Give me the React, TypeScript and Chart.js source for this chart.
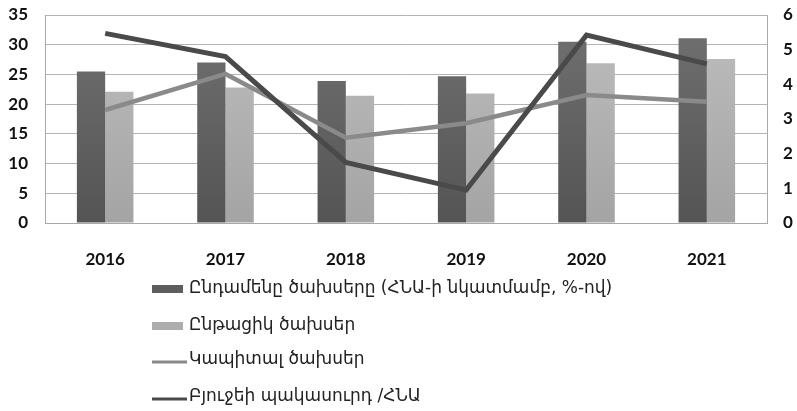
import React, { useEffect, useRef } from "react";
import { Chart, registerables } from "chart.js";

Chart.register(...registerables);

const categories = ["2016", "2017", "2018", "2019", "2020", "2021"];
const totalSpending = [25.5, 27.0, 23.9, 24.7, 30.5, 31.1];
const currentSpending = [22.1, 22.8, 21.4, 21.8, 26.9, 27.6];
const capitalSpending = [3.26, 4.3, 2.46, 2.88, 3.69, 3.5];
const budgetDeficit = [5.47, 4.8, 1.75, 0.95, 5.42, 4.59];
const leftTicks = [0, 5, 10, 15, 20, 25, 30, 35];
const rightTicks = [0, 1, 2, 3, 4, 5, 6];

const seriesLabels = [
  "Ընդամենը ծախսերը (ՀՆԱ-ի նկատմամբ, %-ով)",
  "Ընթացիկ ծախսեր",
  "Կապիտալ ծախսեր",
  "Բյուջեի պակասուրդ /ՀՆԱ",
];

const gradientFill = (top: string, bottom: string) => (ctx: any) => {
  const chart = ctx.chart;
  const area = chart.chartArea;
  if (!area) return bottom;
  const g = chart.ctx.createLinearGradient(0, area.top, 0, area.bottom);
  g.addColorStop(0, top);
  g.addColorStop(1, bottom);
  return g;
};

const legendPlugin = {
  id: "columnLegend",
  afterDraw(chart: any, _args: any, opts: any) {
    const ctx = chart.ctx;
    const area = chart.chartArea;
    const x0 = opts.x;
    ctx.save();
    ctx.font = opts.font;
    ctx.fillStyle = opts.color;
    ctx.textBaseline = "middle";
    chart.data.datasets.forEach((ds: any, i: number) => {
      const y = area.bottom + opts.rows[i];
      if (ds.type === "line") {
        ctx.strokeStyle = ds.borderColor;
        ctx.lineWidth = 3;
        ctx.beginPath();
        ctx.moveTo(x0, y + 2);
        ctx.lineTo(x0 + opts.boxWidth + 4, y + 2);
        ctx.stroke();
      } else {
        ctx.fillStyle = ds.legendColor;
        ctx.fillRect(x0, y - 4, opts.boxWidth, 8);
      }
      ctx.fillStyle = opts.color;
      ctx.textAlign = "left";
      ctx.fillText(ds.label, x0 + opts.boxWidth + 6, y);
    });
    ctx.restore();
  },
};

export default function App() {
  const ref = useRef<HTMLCanvasElement | null>(null);

  useEffect(() => {
    document.body.style.margin = "0";
    const canvas = ref.current;
    if (!canvas) return;
    const tickFont = { family: "Lato", size: 17, weight: "bold" as const };
    const chart = new Chart(canvas, {
      type: "bar",
      data: {
        labels: categories,
        datasets: [
          {
            type: "bar",
            label: seriesLabels[0],
            data: totalSpending,
            backgroundColor: gradientFill("#717171", "#545454"),
            legendColor: "#5e5e5e",
            yAxisID: "y",
            order: 2,
            barPercentage: 1,
            categoryPercentage: 0.47,
          } as any,
          {
            type: "bar",
            label: seriesLabels[1],
            data: currentSpending,
            backgroundColor: gradientFill("#bebebe", "#a4a4a4"),
            legendColor: "#acacac",
            yAxisID: "y",
            order: 2,
            barPercentage: 1,
            categoryPercentage: 0.47,
          } as any,
          {
            type: "line",
            label: seriesLabels[2],
            data: capitalSpending,
            borderColor: "#8a8a8a",
            borderWidth: 4.5,
            pointRadius: 0,
            tension: 0,
            yAxisID: "y1",
            order: 1,
          } as any,
          {
            type: "line",
            label: seriesLabels[3],
            data: budgetDeficit,
            borderColor: "#4a4a4a",
            borderWidth: 5,
            pointRadius: 0,
            tension: 0,
            yAxisID: "y1",
            order: 0,
          } as any,
        ],
      },
      options: {
        animation: false,
        responsive: false,
        layout: { padding: { top: 15, left: 0, right: 0, bottom: 0 } },
        plugins: {
          legend: { display: false },
          tooltip: { enabled: false },
          columnLegend: {
            x: 152,
            boxWidth: 31,
            rows: [66, 103, 137, 174],
            font: "17px 'DejaVu Sans'",
            color: "#222222",
          },
        } as any,
        scales: {
          x: {
            grid: { display: false },
            border: { display: true, color: "#a8a8a8", width: 1 },
            ticks: { font: tickFont, color: "#111111", padding: 18 },
            afterFit: (s: any) => {
              s.height = 188;
            },
          },
          y: {
            position: "left",
            min: 0,
            max: 35,
            afterBuildTicks: (s: any) => {
              s.ticks = leftTicks.map((v) => ({ value: v }));
            },
            grid: { color: "#b4b4b4", lineWidth: 1, drawTicks: false },
            border: { display: true, color: "#a8a8a8", width: 1 },
            ticks: { font: tickFont, color: "#111111", padding: 17 },
            afterFit: (s: any) => {
              s.width = 45;
              s.paddingTop = 0;
              s.paddingBottom = 0;
            },
          },
          y1: {
            position: "right",
            min: 0,
            max: 6,
            afterBuildTicks: (s: any) => {
              s.ticks = rightTicks.map((v) => ({ value: v }));
            },
            grid: { display: false, drawTicks: false },
            border: { display: true, color: "#a8a8a8", width: 1 },
            ticks: { font: tickFont, color: "#111111", padding: 16 },
            afterFit: (s: any) => {
              s.width = 30;
              s.paddingTop = 0;
              s.paddingBottom = 0;
            },
          },
        },
      },
      plugins: [legendPlugin],
    });
    return () => chart.destroy();
  }, []);

  return (
    <div style={{ position: "fixed", left: 0, top: 0, width: 797, height: 411, background: "#fff" }}>
      <canvas ref={ref} width={797} height={411} style={{ width: 797, height: 411 }} />
    </div>
  );
}
